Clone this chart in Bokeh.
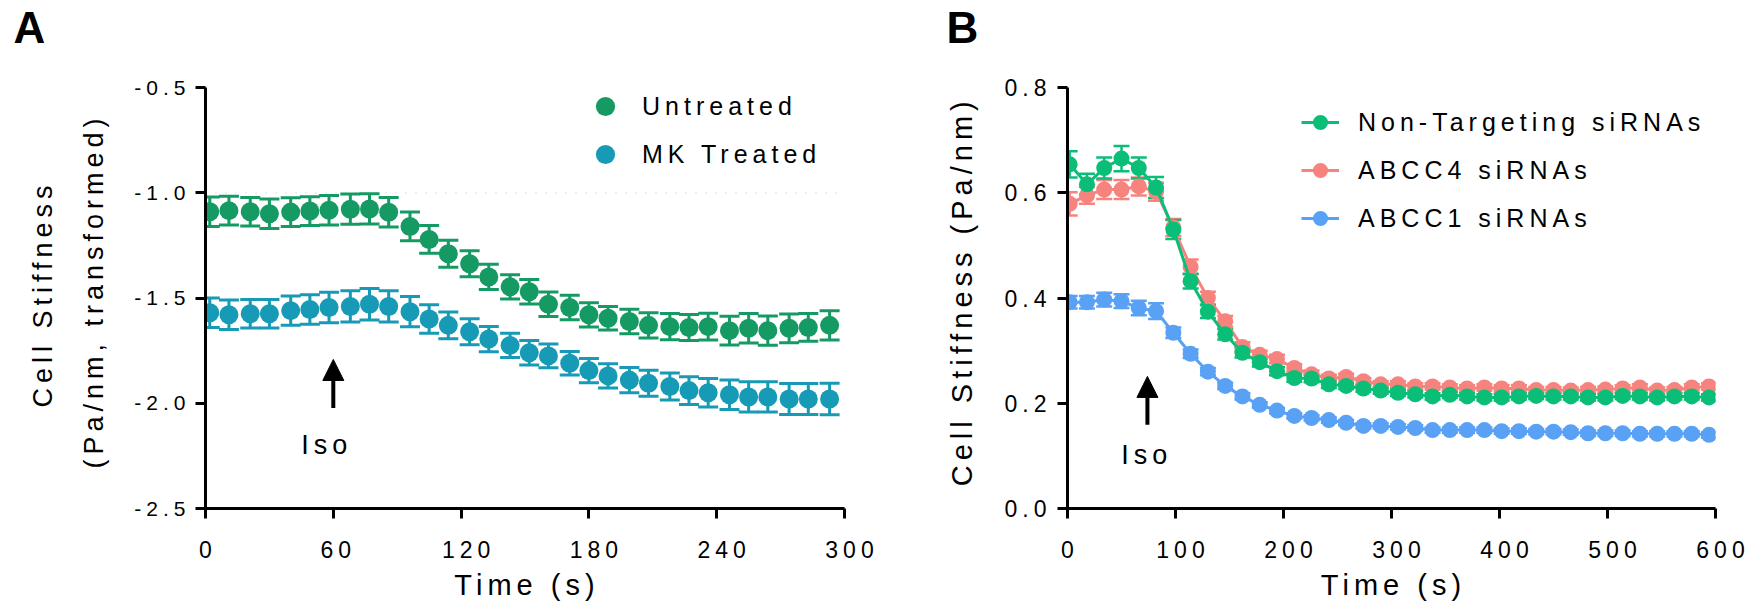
from bokeh.plotting import figure
from bokeh.layouts import row
from bokeh.models import (ColumnDataSource, Whisker, TeeHead, Range1d, FixedTicker,
                          NumeralTickFormatter, Legend, LegendItem, Label, Arrow,
                          NormalHead, Span, Title)
from bokeh.embed import file_html
from bokeh.resources import INLINE

# ---------------- data: panel A ----------------
time_a = [2, 11, 21, 30, 40, 49, 58, 68, 77, 86, 96, 105, 114, 124, 133, 143,
          152, 161, 171, 180, 189, 199, 208, 218, 227, 236, 246, 255, 264, 274, 283, 293]
untreated = [-1.090, -1.085, -1.090, -1.100, -1.092, -1.087, -1.083, -1.078, -1.077, -1.093,
             -1.160, -1.222, -1.290, -1.337, -1.400, -1.447, -1.470, -1.530, -1.545, -1.580,
             -1.596, -1.612, -1.630, -1.636, -1.640, -1.636, -1.655, -1.644, -1.655, -1.644,
             -1.640, -1.630]
untreated_err = [0.070, 0.068, 0.068, 0.070, 0.068, 0.068, 0.070, 0.072, 0.072, 0.070,
                 0.068, 0.066, 0.064, 0.062, 0.060, 0.058, 0.058, 0.058, 0.058, 0.058,
                 0.056, 0.058, 0.060, 0.062, 0.062, 0.064, 0.068, 0.070, 0.070, 0.068,
                 0.066, 0.070]
mk_treated = [-1.570, -1.580, -1.575, -1.575, -1.560, -1.555, -1.545, -1.540, -1.530, -1.540,
              -1.565, -1.600, -1.630, -1.660, -1.695, -1.725, -1.760, -1.775, -1.810, -1.845,
              -1.870, -1.890, -1.905, -1.920, -1.940, -1.950, -1.960, -1.970, -1.970, -1.980,
              -1.980, -1.980]
mk_treated_err = [0.070, 0.070, 0.068, 0.068, 0.070, 0.070, 0.072, 0.074, 0.075, 0.074,
                  0.072, 0.068, 0.064, 0.062, 0.060, 0.058, 0.058, 0.056, 0.056, 0.058,
                  0.058, 0.060, 0.062, 0.064, 0.066, 0.068, 0.070, 0.072, 0.072, 0.074,
                  0.074, 0.075]
series_a = ["Untreated", "MK Treated"]
xticks_a = [0, 60, 120, 180, 240, 300]
yticks_a = [-2.5, -2.0, -1.5, -1.0, -0.5]

# ---------------- data: panel B ----------------
time_b = [2, 18, 34, 50, 66, 82, 98, 114, 130, 146, 162, 178, 194, 210, 226, 242, 258, 274,
          290, 306, 322, 338, 354, 370, 386, 402, 418, 434, 450, 466, 482, 498, 514, 530,
          546, 562, 578, 594]
nontargeting = [0.654, 0.616, 0.647, 0.665, 0.647, 0.610, 0.530, 0.432, 0.374, 0.331,
                0.296, 0.278, 0.261, 0.248, 0.247, 0.236, 0.233, 0.228, 0.224, 0.220,
                0.217, 0.213, 0.216, 0.213, 0.211, 0.211, 0.213, 0.214, 0.213, 0.213,
                0.211, 0.211, 0.214, 0.213, 0.211, 0.213, 0.213, 0.211]
nontargeting_err = [0.025, 0.020, 0.020, 0.024, 0.020, 0.020, 0.018, 0.014, 0.012, 0.010,
                    0.009, 0.008, 0.008, 0.007, 0.007, 0.007, 0.006, 0.006, 0.006, 0.006,
                    0.006, 0.006, 0.006, 0.006, 0.006, 0.006, 0.006, 0.006, 0.006, 0.006,
                    0.006, 0.006, 0.006, 0.006, 0.006, 0.006, 0.006, 0.006]
abcc4 = [0.579, 0.595, 0.606, 0.606, 0.612, 0.602, 0.534, 0.459, 0.400, 0.356,
         0.307, 0.292, 0.284, 0.267, 0.255, 0.247, 0.250, 0.242, 0.236, 0.236,
         0.232, 0.232, 0.230, 0.228, 0.230, 0.228, 0.228, 0.225, 0.225, 0.224,
         0.225, 0.226, 0.228, 0.230, 0.224, 0.225, 0.230, 0.232]
abcc4_err = [0.022, 0.016, 0.018, 0.018, 0.017, 0.017, 0.016, 0.014, 0.012, 0.010,
             0.009, 0.008, 0.008, 0.007, 0.007, 0.007, 0.006, 0.006, 0.006, 0.006,
             0.006, 0.006, 0.006, 0.006, 0.006, 0.006, 0.006, 0.006, 0.006, 0.006,
             0.006, 0.006, 0.006, 0.006, 0.006, 0.006, 0.006, 0.006]
abcc1 = [0.392, 0.392, 0.397, 0.394, 0.381, 0.375, 0.334, 0.294, 0.260, 0.233,
         0.213, 0.197, 0.186, 0.176, 0.172, 0.168, 0.163, 0.157, 0.157, 0.155,
         0.153, 0.149, 0.149, 0.149, 0.149, 0.147, 0.147, 0.146, 0.146, 0.145,
         0.143, 0.143, 0.143, 0.142, 0.142, 0.142, 0.142, 0.140]
abcc1_err = [0.012, 0.012, 0.013, 0.013, 0.014, 0.015, 0.010, 0.008, 0.007, 0.006,
             0.006, 0.005, 0.005, 0.005, 0.005, 0.005, 0.005, 0.005, 0.005, 0.005,
             0.005, 0.005, 0.005, 0.005, 0.005, 0.005, 0.005, 0.005, 0.005, 0.005,
             0.005, 0.005, 0.005, 0.005, 0.005, 0.005, 0.005, 0.005]
series_b = ["Non-Targeting siRNAs", "ABCC4 siRNAs", "ABCC1 siRNAs"]
xticks_b = [0, 100, 200, 300, 400, 500, 600]
yticks_b = [0.0, 0.2, 0.4, 0.6, 0.8]

panel_letters = ["A", "B"]
x_title = "Time (s)"
y_title_a = ["Cell Stiffness", "(Pa/nm, transformed)"]
y_title_b = "Cell Stiffness (Pa/nm)"
iso_text = "Iso"
# Iso arrow: time, arrow base / tip values, text anchor (time, value)
iso_a = dict(t=60, y0=-2.022, y1=-1.792, tx=45, ty=-2.200)
iso_b = dict(t=74, y0=0.159, y1=0.251, tx=49.8, ty=0.101)

# ---------------- styling / geometry (page has no margin: template sets 0) ----------------
FONT = "Liberation Sans"
LS = 5                      # letter spacing (px) of the original texts
FIG_H = 614
TOP, BOTTOM = 53, 106       # borders; frame spans page y 53..508
TICK_TOP_PAGE = 87          # page y of the top tick value
FRAME_BOTTOM = FIG_H - BOTTOM
A_W, B_W = 900, 852
A_LR = (205, 56)            # frame 639 wide: page x 205..844
B_LR = (167, 37)            # frame 648 wide: page x 1067..1715
C_A = ["#159A63", "#179AB5"]
C_B = ["#0BBE78", "#F7837E", "#58A1F5"]
Y_TITLE_CENTER = 293        # page y of the centre of the y titles


def make_fig(fig_w, lr, xr, yr, xticks, yticks, xstand, ystand, tick_font):
    frame_h = FIG_H - TOP - BOTTOM
    span_px = FRAME_BOTTOM - TICK_TOP_PAGE
    y_end = yr[0] + frame_h * (yr[1] - yr[0]) / span_px
    p = figure(width=fig_w, height=FIG_H, x_range=Range1d(*xr), y_range=Range1d(yr[0], y_end),
               min_border_left=lr[0], min_border_right=lr[1],
               min_border_top=TOP, min_border_bottom=BOTTOM,
               output_backend="svg", toolbar_location=None,
               styles={"letter-spacing": f"{LS}px"})
    p.outline_line_color = None
    p.xgrid.visible = False
    p.ygrid.visible = False
    p.background_fill_color = "white"
    p.border_fill_color = "white"
    p.xaxis.ticker = FixedTicker(ticks=xticks)
    p.yaxis.ticker = FixedTicker(ticks=yticks)
    p.yaxis.bounds = yr
    p.yaxis.formatter = NumeralTickFormatter(format="0.0")
    for ax in (p.xaxis[0], p.yaxis[0]):
        ax.axis_line_width = 3
        ax.axis_line_color = "black"
        ax.major_tick_line_width = 3
        ax.major_tick_line_color = "black"
        ax.major_tick_out = 10
        ax.major_tick_in = 0
        ax.minor_tick_line_color = None
        ax.major_label_text_font = FONT
        ax.major_label_text_color = "black"
    p.xaxis.major_label_text_font_size = f"{tick_font[0]}px"
    p.yaxis.major_label_text_font_size = f"{tick_font[1]}px"
    p.xaxis.major_label_standoff = xstand
    p.yaxis.major_label_standoff = ystand
    return p


def side_title(p, side, text, size, offset, valign, standoff):
    p.add_layout(Title(text=text, align="left", offset=offset, vertical_align=valign,
                       standoff=standoff, text_font=FONT, text_font_size=f"{size}px",
                       text_font_style="normal", text_color="black"), side)


def letter(p, text, offset):
    p.title.text = text
    p.title.align = "left"
    p.title.offset = offset
    p.title.vertical_align = "top"
    p.title.standoff = 0
    p.title.text_font = FONT
    p.title.text_font_size = "44px"
    p.title.text_font_style = "bold"
    p.title.text_color = "black"


def err_series(p, t, v, e, color, cap, lw):
    src = ColumnDataSource(dict(t=t, v=v,
                                lo=[a - b for a, b in zip(v, e)],
                                hi=[a + b for a, b in zip(v, e)]))
    p.add_layout(Whisker(source=src, base="t", lower="lo", upper="hi",
                         line_color=color, line_width=lw,
                         lower_head=TeeHead(size=cap, line_color=color, line_width=lw),
                         upper_head=TeeHead(size=cap, line_color=color, line_width=lw)))
    return src


def iso_marker(p, iso):
    p.add_layout(Arrow(end=NormalHead(size=21, fill_color="black", line_color="black"),
                       x_start=iso["t"], y_start=iso["y0"], x_end=iso["t"], y_end=iso["y1"],
                       line_width=4, line_color="black"))
    p.add_layout(Label(x=iso["tx"], y=iso["ty"], text=iso_text, text_font=FONT,
                       text_font_size="27px", text_baseline="alphabetic",
                       text_align="left", text_color="black"))


# ================= Panel A =================
pa = make_fig(A_W, A_LR, (0, 300), (-2.5, -0.5), xticks_a, yticks_a, 22, 25, (23, 21))
pa.add_layout(Span(location=-1.0, dimension="width", line_color="#dddddd",
                   line_width=2, line_dash="1 9", level="underlay"))
rend_a = []
for vals, errs, col in [(untreated, untreated_err, C_A[0]),
                        (mk_treated, mk_treated_err, C_A[1])]:
    src = err_series(pa, time_a, vals, errs, col, 20, 3)
    rend_a.append(pa.scatter("t", "v", source=src, size=19, marker="circle",
                             fill_color=col, line_color=None))
pa.add_layout(Legend(items=[LegendItem(label=s, renderers=[r]) for s, r in zip(series_a, rend_a)],
                     location=(376, FRAME_BOTTOM - 178), glyph_width=48, glyph_height=48,
                     spacing=0, label_standoff=13, padding=0, margin=0,
                     border_line_color=None, background_fill_alpha=0,
                     label_text_font=FONT, label_text_font_size="25px",
                     label_text_color="black"))
iso_marker(pa, iso_a)
letter(pa, panel_letters[0], 13 - A_LR[0])
a_left, a_right = A_LR[0], A_W - A_LR[1]
side_title(pa, "below", x_title, 29, (a_left + a_right) / 2 - 70.7 - a_left, "bottom", 12)
# y title (two lines): closer line first; offsets = start of spaced text from frame bottom
side_title(pa, "left", y_title_a[1], 27, FRAME_BOTTOM - (Y_TITLE_CENTER + 175), "top", 42)
side_title(pa, "left", y_title_a[0], 27, FRAME_BOTTOM - (Y_TITLE_CENTER + 114), "bottom", 0)

# ================= Panel B =================
pb = make_fig(B_W, B_LR, (0, 600), (0.0, 0.8), xticks_b, yticks_b, 22, 21, (23, 23))
rend_b = {}
for name, vals, errs, col in [(series_b[2], abcc1, abcc1_err, C_B[2]),
                              (series_b[1], abcc4, abcc4_err, C_B[1]),
                              (series_b[0], nontargeting, nontargeting_err, C_B[0])]:
    src = err_series(pb, time_b, vals, errs, col, 16, 2.5)
    ln = pb.line("t", "v", source=src, line_color=col, line_width=3)
    sc = pb.scatter("t", "v", source=src, size=16, marker="circle",
                    fill_color=col, line_color=None)
    rend_b[name] = [ln, sc]
pb.add_layout(Legend(items=[LegendItem(label=s, renderers=rend_b[s]) for s in series_b],
                     location=(234, FRAME_BOTTOM - 237), glyph_width=38, glyph_height=38,
                     spacing=10, label_standoff=19, padding=0, margin=0,
                     border_line_color=None, background_fill_alpha=0,
                     label_text_font=FONT, label_text_font_size="25px",
                     label_text_color="black"))
iso_marker(pb, iso_b)
b_left = A_W + B_LR[0]
b_right = A_W + B_W - B_LR[1]
letter(pb, panel_letters[1], 946 - b_left)
side_title(pb, "below", x_title, 29, (b_left + b_right) / 2 - 70.7 - b_left, "bottom", 12)
side_title(pb, "left", y_title_b, 29, FRAME_BOTTOM - (Y_TITLE_CENTER + 192.7), "bottom", 48)

layout = row(pa, pb, spacing=0)
open("out.html", "w").write(file_html(layout, INLINE, title="Cell stiffness"))
